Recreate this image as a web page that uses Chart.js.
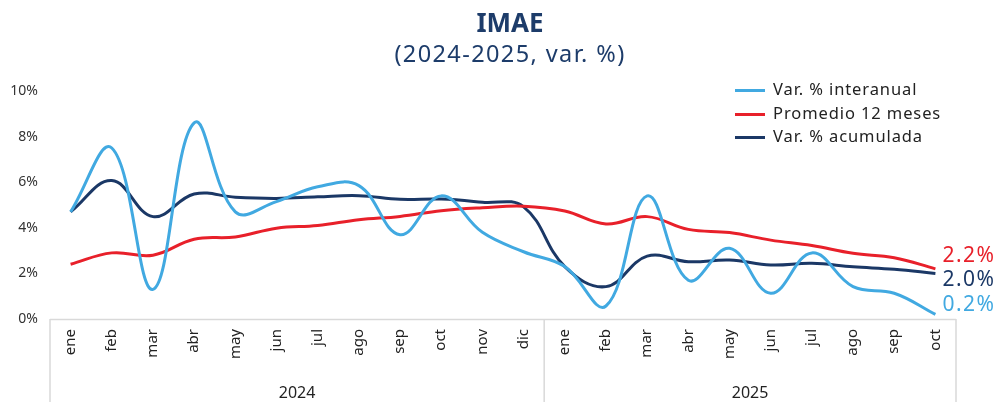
<!DOCTYPE html>
<html>
<head>
<meta charset="utf-8">
<script src="https://cdn.jsdelivr.net/npm/chart.js@4/dist/chart.umd.min.js"></script>
<style>
  html, body { margin: 0; padding: 0; background: #fff; }
  #wrap { position: relative; width: 1000px; height: 402px; font-family: "Noto Sans", sans-serif; }
  #chart { position: absolute; left: 0; top: 0; }
  .title { position: absolute; left: 0; width: 1020px; text-align: center; color: #1d3c6a; }
  #t1 { top: 4px; font-size: 26px; font-weight: bold; }
  #t2 { top: 37px; font-size: 23.5px; letter-spacing: 1.4px; }
  #legend { position: absolute; left: 735px; top: 77px; font-size: 16.5px; letter-spacing: 0.9px; color: #222; }
  #legend div { height: 23.5px; line-height: 23.5px; white-space: nowrap; }
  #legend span.sw { display: inline-block; width: 30px; height: 3px; vertical-align: middle; margin-right: 8px; }
</style>
</head>
<body>
<div id="wrap">
  <canvas id="chart" width="1000" height="402"></canvas>
  <div class="title" id="t1">IMAE</div>
  <div class="title" id="t2">(2024-2025, var. %)</div>
  <div id="legend"></div>
</div>
<script>
const months = ['ene','feb','mar','abr','may','jun','jul','ago','sep','oct','nov','dic',
                'ene','feb','mar','abr','may','jun','jul','ago','sep','oct'];
const years = [{label: '2024', from: 0, to: 11}, {label: '2025', from: 12, to: 21}];

const interanual = [4.7, 7.5, 1.3, 8.6, 4.7, 5.15, 5.8, 5.85, 3.7, 5.4, 3.8, 2.95,
                    2.3, 0.57, 5.4, 1.7, 3.1, 1.13, 2.9, 1.42, 1.13, 0.2];
const promedio12 = [2.4, 2.9, 2.8, 3.5, 3.6, 3.98, 4.1, 4.35, 4.5, 4.75, 4.88, 4.95,
                    4.74, 4.17, 4.49, 3.93, 3.79, 3.46, 3.22, 2.88, 2.69, 2.2];
const acumulada = [4.7, 6.07, 4.49, 5.48, 5.34, 5.29, 5.36, 5.41, 5.25, 5.26, 5.12, 4.92,
                   2.3, 1.42, 2.76, 2.51, 2.59, 2.37, 2.44, 2.29, 2.18, 2.0];
const yTicks = [0, 2, 4, 6, 8, 10];

const cBlue = '#41a9e1';
const cRed = '#e8202a';
const cNavy = '#1b3866';

const series = [
  {label: 'Var. % interanual', data: interanual, color: cBlue, endOffset: -9},
  {label: 'Promedio 12 meses', data: promedio12, color: cRed, endOffset: -13},
  {label: 'Var. % acumulada', data: acumulada, color: cNavy, endOffset: 7}
];

// legend (html)
const leg = document.getElementById('legend');
series.forEach(s => {
  const d = document.createElement('div');
  d.innerHTML = '<span class="sw" style="background:' + s.color + '"></span>' + s.label;
  leg.appendChild(d);
});

// year groups, box lines, end labels
const extras = {
  id: 'extras',
  afterDatasetsDraw(chart) {
    const ctx = chart.ctx;
    const x = chart.scales.x;
    const area = chart.chartArea;
    const step = x.getPixelForValue(1) - x.getPixelForValue(0);
    ctx.save();
    ctx.strokeStyle = '#d9d9d9';
    ctx.lineWidth = 1.5;
    ctx.beginPath();
    ctx.moveTo(area.left, area.bottom + 0.5);
    ctx.lineTo(area.right, area.bottom + 0.5);
    const edges = [x.getPixelForValue(0) - step / 2];
    years.forEach(y => edges.push(x.getPixelForValue(y.to) + step / 2));
    edges.forEach(px => {
      ctx.moveTo(px, area.bottom);
      ctx.lineTo(px, chart.height);
    });
    ctx.stroke();

    ctx.fillStyle = '#222';
    ctx.font = '16px "Noto Sans"';
    ctx.textAlign = 'center';
    ctx.textBaseline = 'middle';
    years.forEach(y => {
      const cx = (x.getPixelForValue(y.from) + x.getPixelForValue(y.to)) / 2;
      ctx.fillText(y.label, cx, 393);
    });

    ctx.font = '21px "Noto Sans"';
    ctx.letterSpacing = '1.5px';
    ctx.textAlign = 'left';
    chart.data.datasets.forEach((ds, i) => {
      const meta = chart.getDatasetMeta(i);
      const last = meta.data[meta.data.length - 1];
      const v = ds.data[ds.data.length - 1];
      ctx.fillStyle = ds.borderColor;
      ctx.fillText(v.toFixed(1) + '%', last.x + 7, last.y + series[i].endOffset);
    });
    ctx.restore();
  }
};

new Chart(document.getElementById('chart'), {
  type: 'line',
  data: {
    labels: months,
    datasets: series.map(s => ({
      label: s.label,
      data: s.data,
      borderColor: s.color,
      backgroundColor: s.color,
      borderWidth: 3,
      pointRadius: 0,
      tension: 0.4,
      fill: false
    }))
  },
  options: {
    responsive: false,
    animation: false,
    layout: { padding: { top: 91, right: 44, left: 0, bottom: 0 } },
    plugins: { legend: { display: false }, title: { display: false }, tooltip: { enabled: false } },
    scales: {
      x: {
        offset: true,
        grid: { display: false, drawTicks: false },
        border: { display: false },
        ticks: { maxRotation: 90, minRotation: 90, padding: 10, color: '#222', font: { family: 'Noto Sans', size: 15 } },
        afterFit(scale) { scale.height = 83; }
      },
      y: {
        min: 0,
        max: 10,
        afterBuildTicks(scale) { scale.ticks = yTicks.map(v => ({value: v})); },
        grid: { display: false, drawTicks: false },
        border: { display: false },
        ticks: { padding: 12, color: '#333', font: { family: 'Noto Sans', size: 14 }, callback: v => v + '%' },
        afterFit(scale) { scale.width = 50; }
      }
    }
  },
  plugins: [extras]
});
</script>
</body>
</html>
